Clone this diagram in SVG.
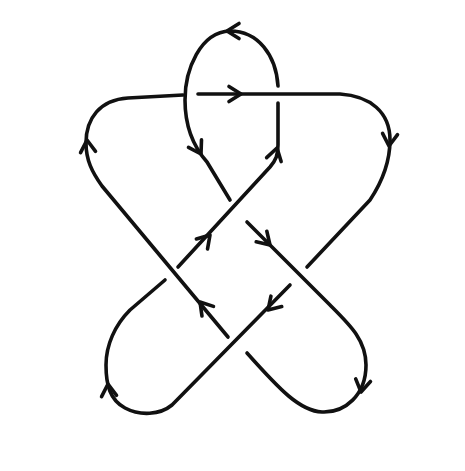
<svg xmlns="http://www.w3.org/2000/svg" xmlns:xlink="http://www.w3.org/1999/xlink" width="465" height="471" viewBox="0 0 465 471">
<style>
.s{fill:none;stroke:#111;stroke-width:3.6;stroke-linecap:round;stroke-linejoin:round}
</style>
<defs>
<path id="ah" class="s" d="M-12,-7.5 L0,0 L-12,7.5"/>
</defs>
<rect width="465" height="471" fill="#fff"/>
<g id="knot">
<path class="s" d="M278,86 C276,55 258,31 230,31 C200,32 185,70 185,100 C185,125 192,145 207,162 L230,200"/>
<path class="s" d="M247,222 L330,305 C350,325 366,340 366,365 C366,395 345,413 322,412 C300,411 280,390 247,353"/>
<path class="s" d="M228,337 L102,186 C92,172 86,160 86,143 C86,118 100,100 128,98 L183,95"/>
<path class="s" d="M198,94 L340,94 C370,96 390,112 390,140 C390,165 380,185 370,200 L307,267"/>
<path class="s" d="M290,285 L172,405 C160,415 140,416 125,408 C110,400 106,385 106,365 C106,345 115,325 130,310 L165,280"/>
<path class="s" d="M178,267 L270,167 C276,160 278,155 278,145 L278,103"/>
</g>
<g id="arrows">
<use xlink:href="#ah" transform="translate(227,31) rotate(180)"/>
<use xlink:href="#ah" transform="translate(201,154) rotate(60)"/>
<use xlink:href="#ah" transform="translate(241,94)"/>
<use xlink:href="#ah" transform="translate(389,146) rotate(95)"/>
<use xlink:href="#ah" transform="translate(87,140) rotate(-95)"/>
<use xlink:href="#ah" transform="translate(277,148) rotate(-75)"/>
<use xlink:href="#ah" transform="translate(210,235) rotate(-48)"/>
<use xlink:href="#ah" transform="translate(270,245) rotate(45)"/>
<use xlink:href="#ah" transform="translate(200,302) rotate(-130)"/>
<use xlink:href="#ah" transform="translate(268,310) rotate(134)"/>
<use xlink:href="#ah" transform="translate(361,392) rotate(100)"/>
<use xlink:href="#ah" transform="translate(108,384) rotate(-95)"/>
</g>
</svg>
